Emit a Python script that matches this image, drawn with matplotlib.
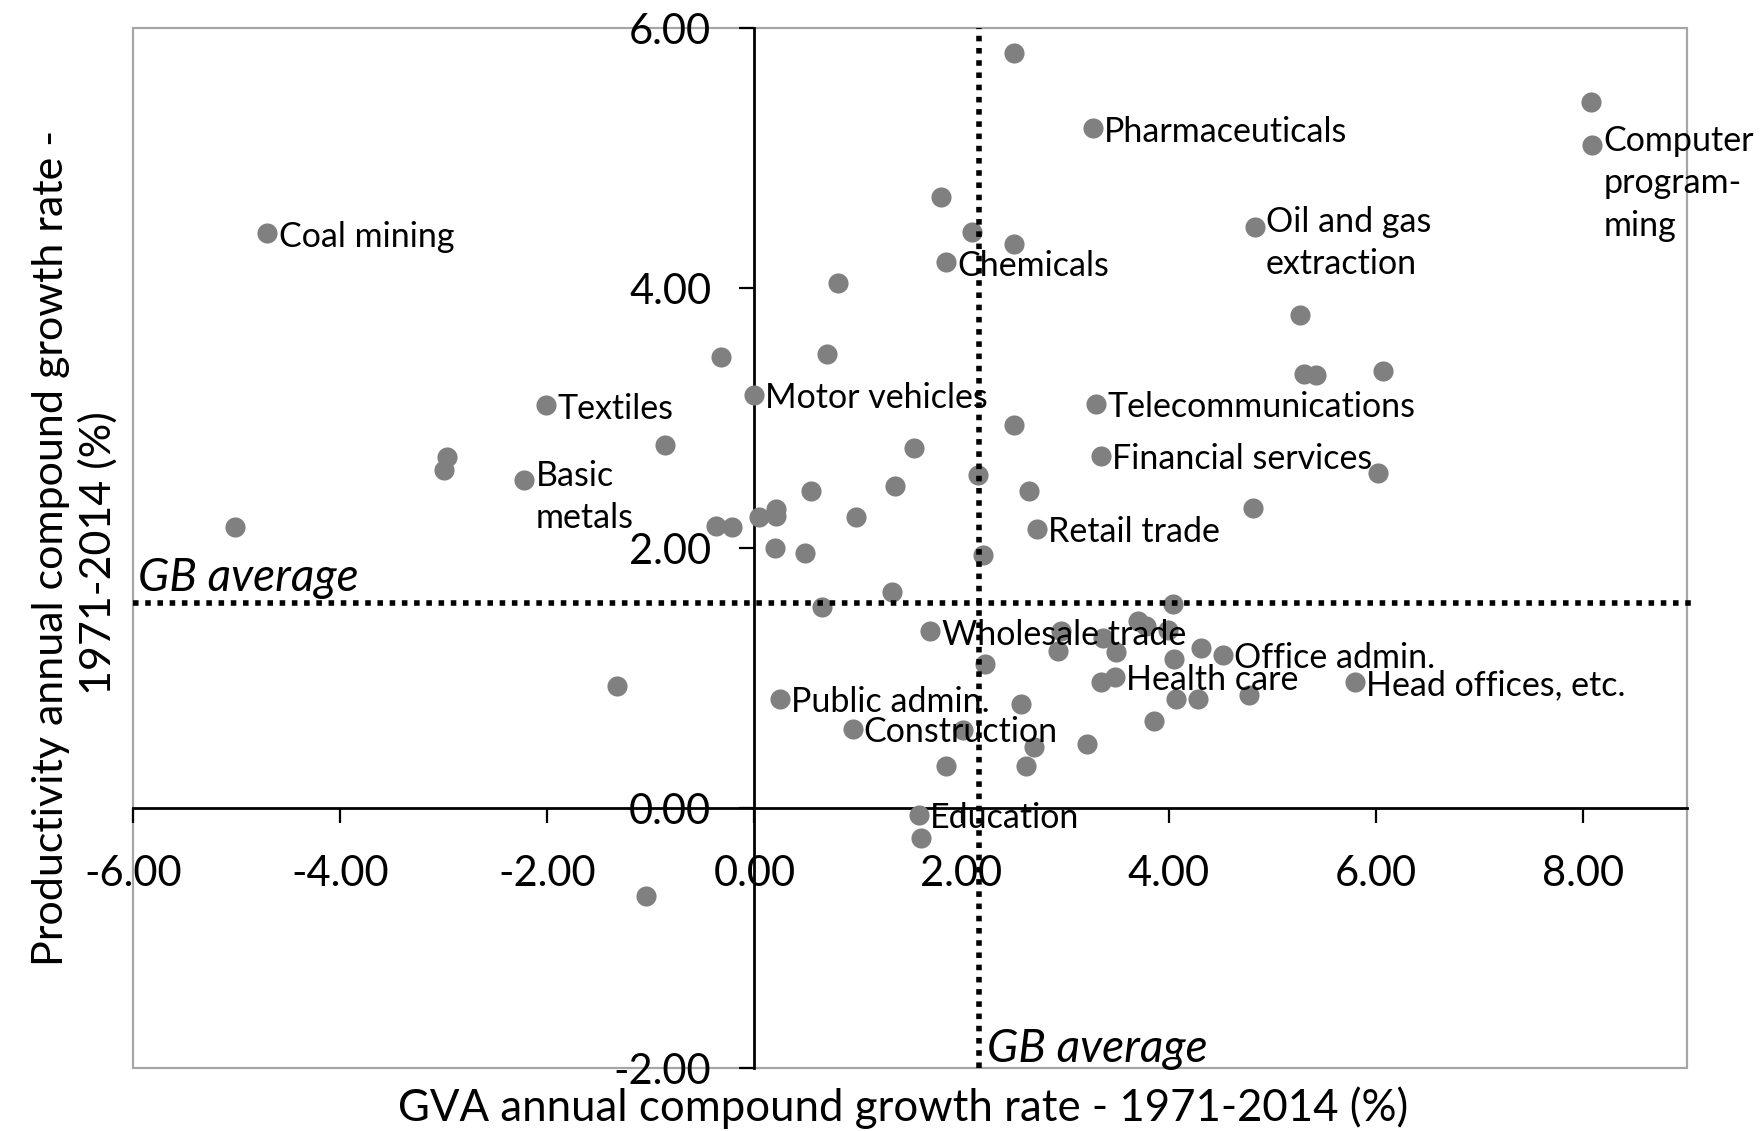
import matplotlib
matplotlib.use('Agg')
import matplotlib.pyplot as plt
from matplotlib.patches import Rectangle

plt.rcParams['font.family'] = ['Lato', 'DejaVu Sans']
plt.rcParams['axes.unicode_minus'] = False

# GVA growth (x) and productivity growth (y), % per year, 1971-2014
gva = [-4.70, -2.01, -2.22, 0.00, 1.85, 3.27, 4.83, 8.09, 3.30, 3.35,
       2.73, 1.70, 4.52, 3.48, 5.80, 0.25, 0.95, 1.59,
       -5.01, -2.97, -3.00, -0.86, -0.32, -0.37, -0.22, 0.05, 0.21, 0.21,
       0.20, 0.49, 0.55, 0.98, 0.81, 0.70, 1.54, 1.36, 1.33, 0.65,
       -1.33, -1.05, 1.80, 2.10, 2.51, 2.51, 2.51, 2.16, 2.65, 2.21,
       2.23, 4.81, 5.27, 5.31, 5.42, 6.07, 6.02, 8.08, 2.01, 2.57,
       2.70, 2.62, 1.85, 3.21, 1.61, 2.96, 2.93, 3.37, 3.49, 3.70,
       3.78, 3.99, 4.04, 4.05, 4.31, 3.35, 4.07, 4.28, 4.78, 3.86]
prod = [4.42, 3.10, 2.52, 3.18, 4.20, 5.23, 4.47, 5.10, 3.11, 2.71,
        2.15, 1.36, 1.18, 1.01, 0.97, 0.84, 0.61, -0.05,
        2.16, 2.70, 2.60, 2.79, 3.47, 2.17, 2.16, 2.24, 2.30, 2.25,
        2.00, 1.96, 2.44, 2.24, 4.04, 3.49, 2.77, 2.48, 1.66, 1.55,
        0.94, -0.68, 4.70, 4.43, 4.34, 5.81, 2.95, 2.56, 2.44, 1.95,
        1.11, 2.31, 3.79, 3.34, 3.33, 3.36, 2.58, 5.43, 0.60, 0.80,
        0.47, 0.32, 0.32, 0.49, -0.23, 1.36, 1.21, 1.31, 1.20, 1.44,
        1.40, 1.37, 1.57, 1.15, 1.23, 0.97, 0.84, 0.84, 0.87, 0.67]
labels = ['Coal mining', 'Textiles', 'Basic\nmetals', 'Motor vehicles',
          'Chemicals', 'Pharmaceuticals', 'Oil and gas\nextraction',
          'Computer\nprogram-\nming', 'Telecommunications',
          'Financial services', 'Retail trade', 'Wholesale trade',
          'Office admin.', 'Health care', 'Head offices, etc.',
          'Public admin.', 'Construction', 'Education']

gb_avg_gva = 2.17
gb_avg_prod = 1.58

fig = plt.figure(figsize=(17.63, 11.31), dpi=100)
ax = fig.add_axes([0.0753, 0.0557, 0.8814, 0.9195])

ax.scatter(gva, prod, s=210, color='#808080', zorder=2, linewidths=0)

ax.axhline(gb_avg_prod, color='black', lw=4, ls=(0, (1, 1.2)), zorder=3,
           xmax=1.005, clip_on=False)
ax.axvline(gb_avg_gva, color='black', lw=4, ls=(0, (1, 1.2)), zorder=3)

label_fs = 24.5
line_h = 31.5  # points between lines of a wrapped label
for i, lab in enumerate(labels):
    n = lab.count('\n')
    dy = -2.5 if n == 0 else -n * line_h / 2 + 4
    ax.annotate(lab, (gva[i], prod[i]), xytext=(8, dy),
                textcoords='offset points', ha='left', va='center',
                fontsize=label_fs, linespacing=1.4, zorder=4)

ax.text(-5.95, 1.67, 'GB average', style='italic',
        fontsize=33, ha='left', va='baseline')
ax.text(gb_avg_gva + 0.08, -1.95, 'GB average', style='italic',
        fontsize=33, ha='left', va='baseline')

ax.set_xlim(-6, 9)
ax.set_ylim(-2, 6)
ax.set_xticks([-6, -4, -2, 0, 2, 4, 6, 8])
ax.set_yticks([-2, 0, 2, 4, 6])
ax.set_xticklabels(['%.2f' % v for v in ax.get_xticks()])
ax.set_yticklabels(['%.2f' % v for v in ax.get_yticks()])

for side in ['top', 'right']:
    ax.spines[side].set_visible(False)
ax.spines['left'].set_position(('data', 0))
ax.spines['bottom'].set_position(('data', 0))
ax.spines['left'].set_linewidth(2)
ax.spines['bottom'].set_linewidth(2)
ax.spines['left'].set_zorder(1)
ax.spines['bottom'].set_zorder(1)
ax.tick_params(axis='x', direction='out', length=11, width=1.6, pad=23,
               labelsize=30)
ax.tick_params(axis='y', direction='out', length=11, width=1.6, pad=20,
               labelsize=30)

ax.add_patch(Rectangle((0, 0), 1, 1, transform=ax.transAxes, fill=False,
                       ec='#a6a6a6', lw=1.6, clip_on=False, zorder=0))

fig.text(0.512, 0.021, 'GVA annual compound growth rate - 1971-2014 (%)',
         fontsize=31.5, ha='center', va='center')
fig.text(0.0287, 0.5155, 'Productivity annual compound growth rate -',
         fontsize=31, ha='center', va='center', rotation=90)
fig.text(0.0555, 0.511, '1971-2014 (%)',
         fontsize=31, ha='center', va='center', rotation=90)

fig.savefig('out.png', dpi=100)
